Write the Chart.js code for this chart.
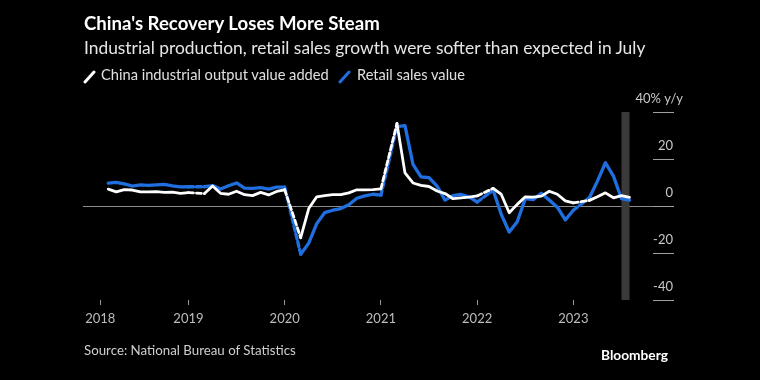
<!DOCTYPE html>
<html>
<head>
<meta charset="utf-8">
<script src="https://cdn.jsdelivr.net/npm/chart.js@4.4.0/dist/chart.umd.min.js"></script>
<style>
  body { margin: 0; background: #000; width: 760px; height: 380px; overflow: hidden; position: relative; font-family: Lato, "Noto Sans", sans-serif; }
  #c { position: absolute; left: 0; top: 0; }
  .txt { position: absolute; white-space: nowrap; line-height: 1; font-size: 16px; }
  .icon { position: absolute; }
</style>
</head>
<body>
<canvas id="c" width="760" height="380"></canvas>

<div class="txt" data-x="84" data-y="24" data-w="296" style="font-weight:700;color:#fff">China's Recovery Loses More Steam</div>
<div class="txt" data-x="84" data-y="48" data-w="562" style="color:#e6e6e6">Industrial production, retail sales growth were softer than expected in July</div>

<svg class="icon" style="left:83px;top:70px" width="14" height="14"><line x1="2" y1="12" x2="11" y2="2" stroke="#fff" stroke-width="3" stroke-linecap="round"/></svg>
<div class="txt" data-x="101" data-y="76" data-w="228" style="color:#e0e0e0">China industrial output value added</div>
<svg class="icon" style="left:338px;top:70px" width="14" height="14"><line x1="2" y1="12" x2="11" y2="2" stroke="#1f6fe0" stroke-width="3" stroke-linecap="round"/></svg>
<div class="txt" data-x="357" data-y="76" data-w="108" style="color:#e0e0e0">Retail sales value</div>

<div class="txt" data-x="84" data-y="351" data-w="212" style="color:#cfcfcf">Source: National Bureau of Statistics</div>
<div class="txt" data-x="601" data-y="355" data-w="67" style="font-weight:700;color:#fff">Bloomberg</div>

<script>
// monthly y/y growth, Feb 2018 .. Jul 2023; January is null (published with February)
const startYear = 2018;
const startMonth = 2;

const ipValues = [
  7.2, 6.0, 7.0, 6.8, 6.0, 6.0, 6.1, 5.8, 5.9, 5.4, 5.7,
  null, 5.3, 8.5, 5.4, 5.0, 6.3, 4.8, 4.4, 5.8, 4.7, 6.2, 6.9,
  null, -13.5, -1.1, 3.9, 4.4, 4.8, 4.8, 5.6, 6.9, 6.9, 7.0, 7.3,
  null, 35.1, 14.1, 9.8, 8.8, 8.3, 6.4, 5.3, 3.1, 3.5, 3.8, 4.3,
  null, 7.5, 5.0, -2.9, 0.7, 3.9, 3.8, 4.2, 6.3, 5.0, 2.2, 1.3,
  null, 2.4, 3.9, 5.6, 3.5, 4.4, 3.7
];

const retailValues = [
  9.7, 10.1, 9.4, 8.5, 9.0, 8.8, 9.0, 9.2, 8.6, 8.1, 8.2,
  null, 8.2, 8.7, 7.2, 8.6, 9.8, 7.6, 7.5, 7.8, 7.2, 8.0, 8.0,
  null, -20.5, -15.8, -7.5, -2.8, -1.8, -1.1, 0.5, 3.3, 4.3, 5.0, 4.6,
  null, 33.8, 34.2, 17.7, 12.4, 12.1, 8.5, 2.5, 4.4, 4.9, 3.9, 1.7,
  null, 6.7, -3.5, -11.1, -6.7, 3.1, 2.7, 5.4, 2.5, -0.5, -5.9, -1.8,
  null, 3.5, 10.6, 18.4, 12.7, 3.1, 2.5
];

const yearLabels = [2018, 2019, 2020, 2021, 2022, 2023];
const yTicks = [-40, -20, 0, 20, 40];
const highlightMonth = '2023-07';

// x value = months since 1 Jan 2018, each point sits at its month end
const toPoints = vals => vals.map((v, i) => ({ x: startMonth + i, y: v }));
const yearTickValue = y => Math.max((y - startYear) * 12, startMonth - 1);

const dashGap = ctx => (ctx.p0.skip || ctx.p1.skip) ? [5, 3] : undefined;

const bandPlugin = {
  id: 'band',
  beforeDatasetsDraw(chart) {
    const { ctx, chartArea, scales } = chart;
    const [yy, mm] = highlightMonth.split('-').map(Number);
    const v0 = (yy - startYear) * 12 + mm - 1;
    const x0 = scales.x.getPixelForValue(v0);
    const x1 = scales.x.getPixelForValue(v0 + 1);
    ctx.save();
    ctx.fillStyle = '#3a3a3a';
    ctx.fillRect(x0, chartArea.top, x1 - x0, chartArea.bottom - chartArea.top);
    ctx.restore();
  }
};

const tickFont = { family: 'Lato', size: 13 };

new Chart(document.getElementById('c'), {
  type: 'line',
  data: {
    datasets: [
      {
        label: 'China industrial output value added',
        data: toPoints(ipValues),
        borderColor: '#ffffff',
        borderWidth: 2.8,
        spanGaps: true,
        segment: { borderDash: dashGap }
      },
      {
        label: 'Retail sales value',
        data: toPoints(retailValues),
        borderColor: '#1f6fe0',
        borderWidth: 3.3,
        spanGaps: true,
        segment: { borderDash: dashGap }
      }
    ]
  },
  options: {
    responsive: false,
    animation: false,
    layout: { padding: { left: 83, top: 112, right: 86, bottom: 50 } },
    elements: {
      point: { radius: 0 },
      line: { tension: 0, borderJoinStyle: 'round', borderCapStyle: 'round' }
    },
    plugins: { legend: { display: false }, tooltip: { enabled: false } },
    scales: {
      x: {
        type: 'linear',
        min: -1.15,
        max: 69.93,
        border: { display: false },
        grid: { drawOnChartArea: false, tickLength: 5, color: '#9a9a9a' },
        afterBuildTicks: s => { s.ticks = yearLabels.map(y => ({ value: yearTickValue(y), label: String(y) })); },
        ticks: {
          autoSkip: false,
          maxRotation: 0,
          padding: 6,
          color: '#bdbdbd',
          font: tickFont,
          callback: (v, i) => String(yearLabels[i])
        },
        afterFit: s => { s.height = 30; }
      },
      y: {
        position: 'right',
        weight: 0,
        min: -40,
        max: 40,
        border: { display: false },
        grid: {
          color: ctx => (ctx.tick && ctx.tick.value === 0) ? '#8c8c8c' : 'rgba(0,0,0,0)',
          tickColor: '#a0a0a0',
          tickLength: 21
        },
        afterBuildTicks: s => { s.ticks = yTicks.map(v => ({ value: v })); },
        ticks: {
          mirror: true,
          padding: 20,
          labelOffset: -13,
          color: '#c8c8c8',
          font: tickFont,
          callback: v => (v === 40 ? '' : String(v))
        },
        afterFit: s => { s.width = 21; }
      },
      yUnit: {
        position: 'right',
        weight: 1,
        min: -40,
        max: 40,
        border: { display: false },
        grid: { display: false },
        afterBuildTicks: s => { s.ticks = [{ value: 40 }]; },
        ticks: {
          mirror: true,
          padding: 9,
          labelOffset: -13,
          color: '#c8c8c8',
          font: tickFont,
          callback: v => v + '% y/y'
        },
        afterFit: s => { s.width = 0; }
      }
    }
  },
  plugins: [bandPlugin]
});

// size the header and footer texts to the widths they have in the reference
document.querySelectorAll('.txt').forEach(el => {
  const base = parseFloat(getComputedStyle(el).fontSize);
  const w = el.getBoundingClientRect().width;
  const size = base * (+el.dataset.w) / w;
  el.style.fontSize = size + 'px';
  el.style.left = el.dataset.x + 'px';
  el.style.top = (+el.dataset.y - 0.53 * size) + 'px';
});
</script>
</body>
</html>
